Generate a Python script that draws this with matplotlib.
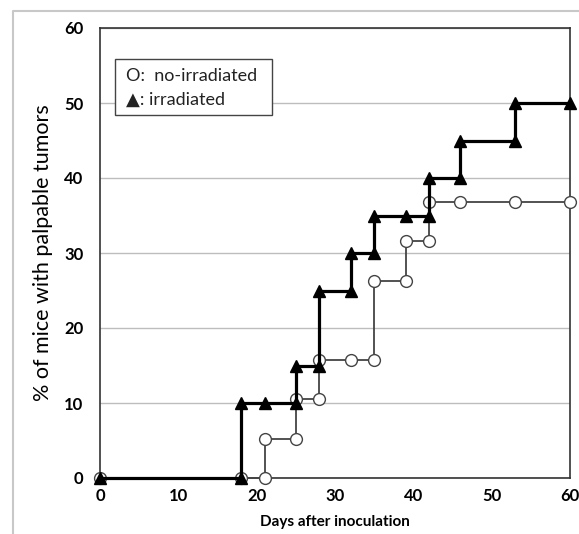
import matplotlib.pyplot as plt
from matplotlib.patches import Rectangle
from matplotlib.lines import Line2D

# data
days_noirr = [0, 18, 21, 21, 25, 25, 28, 28, 32, 35, 35, 39, 39, 42, 42, 46, 53, 60]
pct_noirr = [0, 0, 0, 5.26, 5.26, 10.5, 10.5, 15.8, 15.8, 15.8, 26.3, 26.3, 31.6, 31.6, 36.8, 36.8, 36.8, 36.8]

days_irr = [0, 18, 18, 21, 25, 25, 28, 28, 32, 32, 35, 35, 39, 42, 42, 46, 46, 53, 53, 60]
pct_irr = [0, 0, 10, 10, 10, 15, 15, 25, 25, 30, 30, 35, 35, 35, 40, 40, 45, 45, 50, 50]

x_ticks = [0, 10, 20, 30, 40, 50, 60]
y_ticks = [0, 10, 20, 30, 40, 50, 60]

plt.rcParams['font.family'] = ['Lato', 'DejaVu Sans']

fig = plt.figure(figsize=(5.79, 5.34), dpi=100)
# light outer frame (only top and left edges show in the original)
fig.lines.append(Line2D([13/579, 13/579, 1.0], [0.0, 1 - 11/534, 1 - 11/534],
                        transform=fig.transFigure, color='#c8c8c8', linewidth=1.5))
ax = fig.add_axes([100/579, 56/534, 470/579, 450/534])

ax.set_xlim(0, 60)
ax.set_ylim(0, 60)
ax.set_yticks(y_ticks)
ax.set_xticks(x_ticks)
ax.yaxis.grid(True, color='#bdbdbd', linewidth=1.0)
ax.set_axisbelow(True)

ax.plot(days_noirr, pct_noirr, color='#444444', linewidth=1.3, marker='o', markersize=8.5,
        markerfacecolor='white', markeredgecolor='#444444', markeredgewidth=1.0, clip_on=False, zorder=3)
ax.plot(days_irr, pct_irr, color='black', linewidth=2.3, marker='^', markersize=8,
        markerfacecolor='black', markeredgecolor='black', clip_on=False, zorder=4)

for s in ax.spines.values():
    s.set_color('#333333')
    s.set_linewidth(1.2)

ax.tick_params(axis='both', length=0, pad=7, labelsize=12)
ax.tick_params(axis='y', pad=12)
for lab in ax.get_xticklabels() + ax.get_yticklabels():
    lab.set_fontweight('bold')

ax.set_xlabel("Days after inoculation", fontsize=11, fontweight='bold', labelpad=8)
ax.set_ylabel("% of mice with palpable tumors", fontsize=15.5, labelpad=8)

# legend drawn as a text box, as in the original
ax.add_patch(Rectangle((0.032, 0.807), 0.335, 0.124, transform=ax.transAxes, facecolor='white',
                       edgecolor='#444444', linewidth=1.0, zorder=5))
ax.text(0.055, 0.893, "O:  no-irradiated", transform=ax.transAxes, fontsize=13,
        va='center', ha='left', color='#222222', zorder=6)
ax.text(0.055, 0.840, "\u25B2: irradiated", transform=ax.transAxes, fontsize=13,
        va='center', ha='left', color='#222222', zorder=6)

fig.savefig("out.png", dpi=100)
